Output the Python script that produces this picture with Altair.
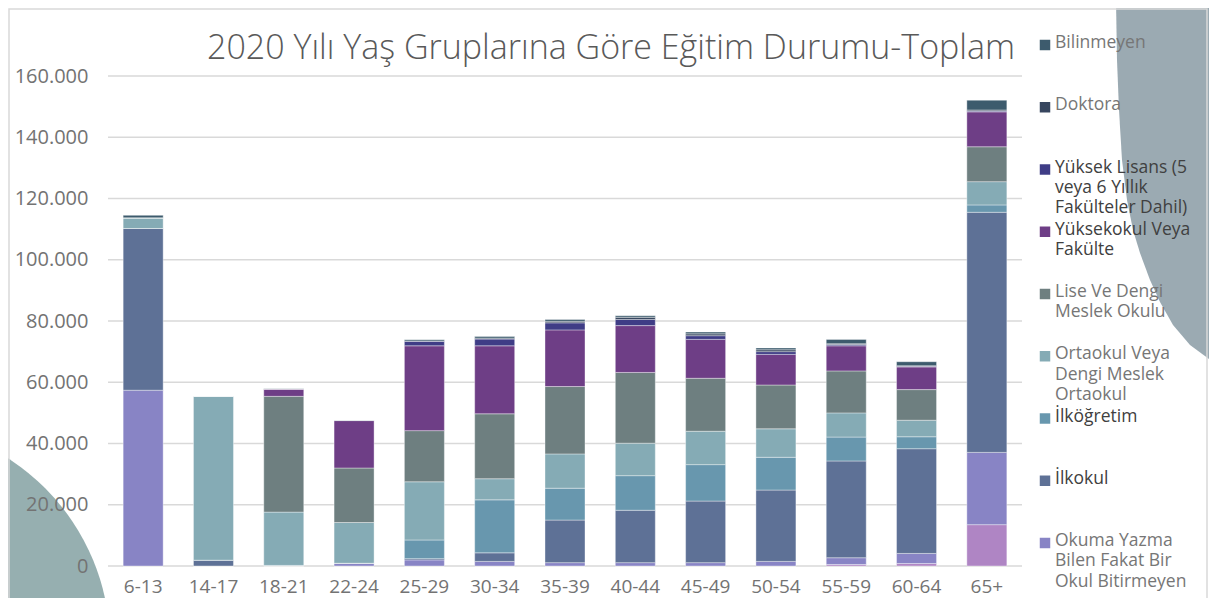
import altair as alt
import pandas as pd

# ---------------- data ----------------
groups = ["6-13", "14-17", "18-21", "22-24", "25-29", "30-34", "35-39",
          "40-44", "45-49", "50-54", "55-59", "60-64", "65+"]

# stacking order: bottom -> top
okuma_bilmeyen = [0, 0, 0, 0, 0, 0, 0, 0, 0, 0, 500, 800, 13500]
okuma_bilen = [57400, 0, 200, 900, 2000, 1500, 1100, 1100, 1100, 1500, 2200, 3300, 23600]
ilkokul = [52800, 1900, 0, 0, 400, 2800, 13900, 17100, 20100, 23300, 31600, 34200, 78400]
ilkogretim = [0, 0, 0, 0, 6100, 17300, 10400, 11300, 11900, 10700, 7800, 3900, 2400]
ortaokul = [3500, 53600, 17400, 13300, 19000, 6900, 11200, 10600, 10900, 9300, 7900, 5400, 7600]
lise = [0, 0, 37800, 17800, 16700, 21200, 22000, 23100, 17300, 14300, 13700, 10000, 11400]
yuksekokul = [0, 0, 2400, 15500, 27700, 22200, 18500, 15300, 12700, 10000, 8200, 7400, 11400]
yuksek_lisans = [0, 0, 0, 0, 1500, 2200, 2300, 2000, 1200, 900, 400, 200, 300]
doktora = [0, 0, 0, 0, 100, 300, 500, 700, 600, 600, 300, 200, 300]
bilinmeyen = [800, 0, 100, 100, 400, 500, 600, 500, 600, 600, 1400, 1300, 3200]

series_names = [
    "Okuma Yazma Bilmeyen",
    "Okuma Yazma Bilen Fakat Bir Okul Bitirmeyen",
    "İlkokul",
    "İlköğretim",
    "Ortaokul Veya Dengi Meslek Ortaokul",
    "Lise Ve Dengi Meslek Okulu",
    "Yüksekokul Veya Fakülte",
    "Yüksek Lisans (5 veya 6 Yıllık Fakülteler Dahil)",
    "Doktora",
    "Bilinmeyen",
]
series_values = [okuma_bilmeyen, okuma_bilen, ilkokul, ilkogretim, ortaokul,
                 lise, yuksekokul, yuksek_lisans, doktora, bilinmeyen]
series_colors = ["#af85c4", "#8884c5", "#5e7196", "#6897ae", "#85abb5",
                 "#6e7f80", "#6e3e86", "#3f3d86", "#37465f", "#3d5b6d"]

# legend entries, top -> bottom, with their line breaks as in the reference
legend_names = [
    "Bilinmeyen",
    "Doktora",
    "Yüksek Lisans (5 veya 6 Yıllık Fakülteler Dahil)",
    "Yüksekokul Veya Fakülte",
    "Lise Ve Dengi Meslek Okulu",
    "Ortaokul Veya Dengi Meslek Ortaokul",
    "İlköğretim",
    "İlkokul",
    "Okuma Yazma Bilen Fakat Bir Okul Bitirmeyen",
]
legend_texts = [
    "Bilinmeyen",
    "Doktora",
    "Yüksek Lisans (5\nveya 6 Yıllık\nFakülteler Dahil)",
    "Yüksekokul Veya\nFakülte",
    "Lise Ve Dengi\nMeslek Okulu",
    "Ortaokul Veya\nDengi Meslek\nOrtaokul",
    "İlköğretim",
    "İlkokul",
    "Okuma Yazma\nBilen Fakat Bir\nOkul Bitirmeyen",
]
legend_dark = [0, 0, 1, 1, 0, 0, 1, 1, 0]

title_text = "2020 Yılı Yaş Gruplarına Göre Eğitim Durumu-Toplam"
y_ticks = [0, 20000, 40000, 60000, 80000, 100000, 120000, 140000, 160000]

# ---------------- tables ----------------
rows = []
for rank, (name, vals) in enumerate(zip(series_names, series_values)):
    for g, v in zip(groups, vals):
        rows.append({"Yaş": g, "Durum": name, "Değer": v, "rank": rank})
df = pd.DataFrame(rows)

leg_df = pd.DataFrame({"Durum": legend_names, "metin": legend_texts, "koyu": legend_dark})
grid_df = pd.DataFrame({"Değer": y_ticks})

color_domain = list(reversed(series_names))
color_range = list(reversed(series_colors))
color_scale = alt.Scale(domain=color_domain, range=color_range)

FONT = "Open Sans"
GREY = "#737373"

y_scale = alt.Scale(domain=[0, 160000], nice=False)

grid = alt.Chart(grid_df).mark_rule(color="#d9d9d9", strokeWidth=1.5).encode(
    y=alt.Y("Değer:Q", scale=y_scale, axis=None),
    x=alt.value(0), x2=alt.value(914))

bars = alt.Chart(df).mark_bar(stroke="#ffffff", strokeWidth=0.7, strokeOpacity=0.55).encode(
    x=alt.X("Yaş:N", sort=groups,
            scale=alt.Scale(paddingInner=0.431, paddingOuter=0.2155),
            axis=alt.Axis(title=None, labelAngle=0, domain=False, ticks=False,
                          labelBaseline="alphabetic", labelPadding=26,
                          labelFontSize=19, labelColor=GREY, zindex=1,
                          labelFont=FONT, grid=False)),
    y=alt.Y("Değer:Q", stack="zero", scale=y_scale,
            axis=alt.Axis(title=None, values=y_ticks, domain=False, ticks=False,
                          labelPadding=20, labelFontSize=20, labelColor=GREY,
                          labelFont=FONT, grid=False, zindex=1,
                          labelExpr="replace(format(datum.value, ','), ',', '.')")),
    color=alt.Color("Durum:N", scale=color_scale, legend=None),
    order=alt.Order("rank:Q", sort="ascending"),
)

# hand-made legend with evenly spaced rows, drawn through its own point scale
leg_y = alt.Y("Durum:N", sort=legend_names, axis=None,
              scale=alt.Scale(type="point", domain=legend_names, range=[-31, 467], padding=0))
leg_sq = alt.Chart(leg_df).mark_square(size=110, opacity=1, filled=True).encode(
    x=alt.value(937), y=leg_y,
    color=alt.Color("Durum:N", scale=color_scale, legend=None))
leg_tx = alt.Chart(leg_df).mark_text(
    align="left", baseline="top", dy=-11, lineBreak="\n", lineHeight=20.3,
    font=FONT, fontSize=17.5).encode(
    x=alt.value(947), y=leg_y, text="metin:N",
    color=alt.condition("datum.koyu == 1", alt.value("#404040"), alt.value("#767676")))
legend = alt.layer(leg_sq, leg_tx)

one = pd.DataFrame({"k": [0]})

# decorative background shapes (outside the plot area)
right_shape = ("M -0.936 -1 L -0.936 -0.6 L -0.932 -0.36 L -0.924 -0.16 L -0.912 0.04 "
               "L -0.892 0.2 L -0.868 0.32 L -0.84 0.412 L -0.8 0.52 L -0.76 0.608 "
               "L -0.708 0.7 L -0.64 0.78 L -0.548 0.848 L -0.44 0.912 L -0.2 0.98 "
               "L 1 1 L 1 -1 Z")
deco_right = alt.Chart(one).mark_point(shape=right_shape, filled=True, size=250000,
                                       color="#9baab2", opacity=1, strokeWidth=0).encode(
    x=alt.value(1242), y=alt.value(74))
deco_left = alt.Chart(one).mark_point(shape="circle", filled=True, size=444 ** 2,
                                      color="#96afb0", opacity=1, strokeWidth=0).encode(
    x=alt.value(-220), y=alt.value(569))
border = alt.Chart(one).mark_rect(filled=False, stroke="#d9d9d9", strokeWidth=1.5).encode(
    x=alt.value(-99), x2=alt.value(1099), y=alt.value(-67), y2=alt.value(620))

title = alt.Chart(pd.DataFrame({"t": [title_text]})).mark_text(
    font=FONT, fontSize=34, fontWeight=300, color="#595959",
    align="center", baseline="alphabetic").encode(
    x=alt.value(503), y=alt.value(-17), text="t:N")

chart = alt.layer(deco_right, deco_left, border, grid, bars, legend, title).resolve_scale(
    y="independent"
).properties(
    width=914, height=490,
    autosize=alt.AutoSizeParams(type="none"),
    padding={"left": 100, "top": 68, "right": 187, "bottom": 32},
    background="#ffffff",
).configure_view(strokeWidth=0)

chart.save("out.html", embed_options={"renderer": "svg", "actions": False})
